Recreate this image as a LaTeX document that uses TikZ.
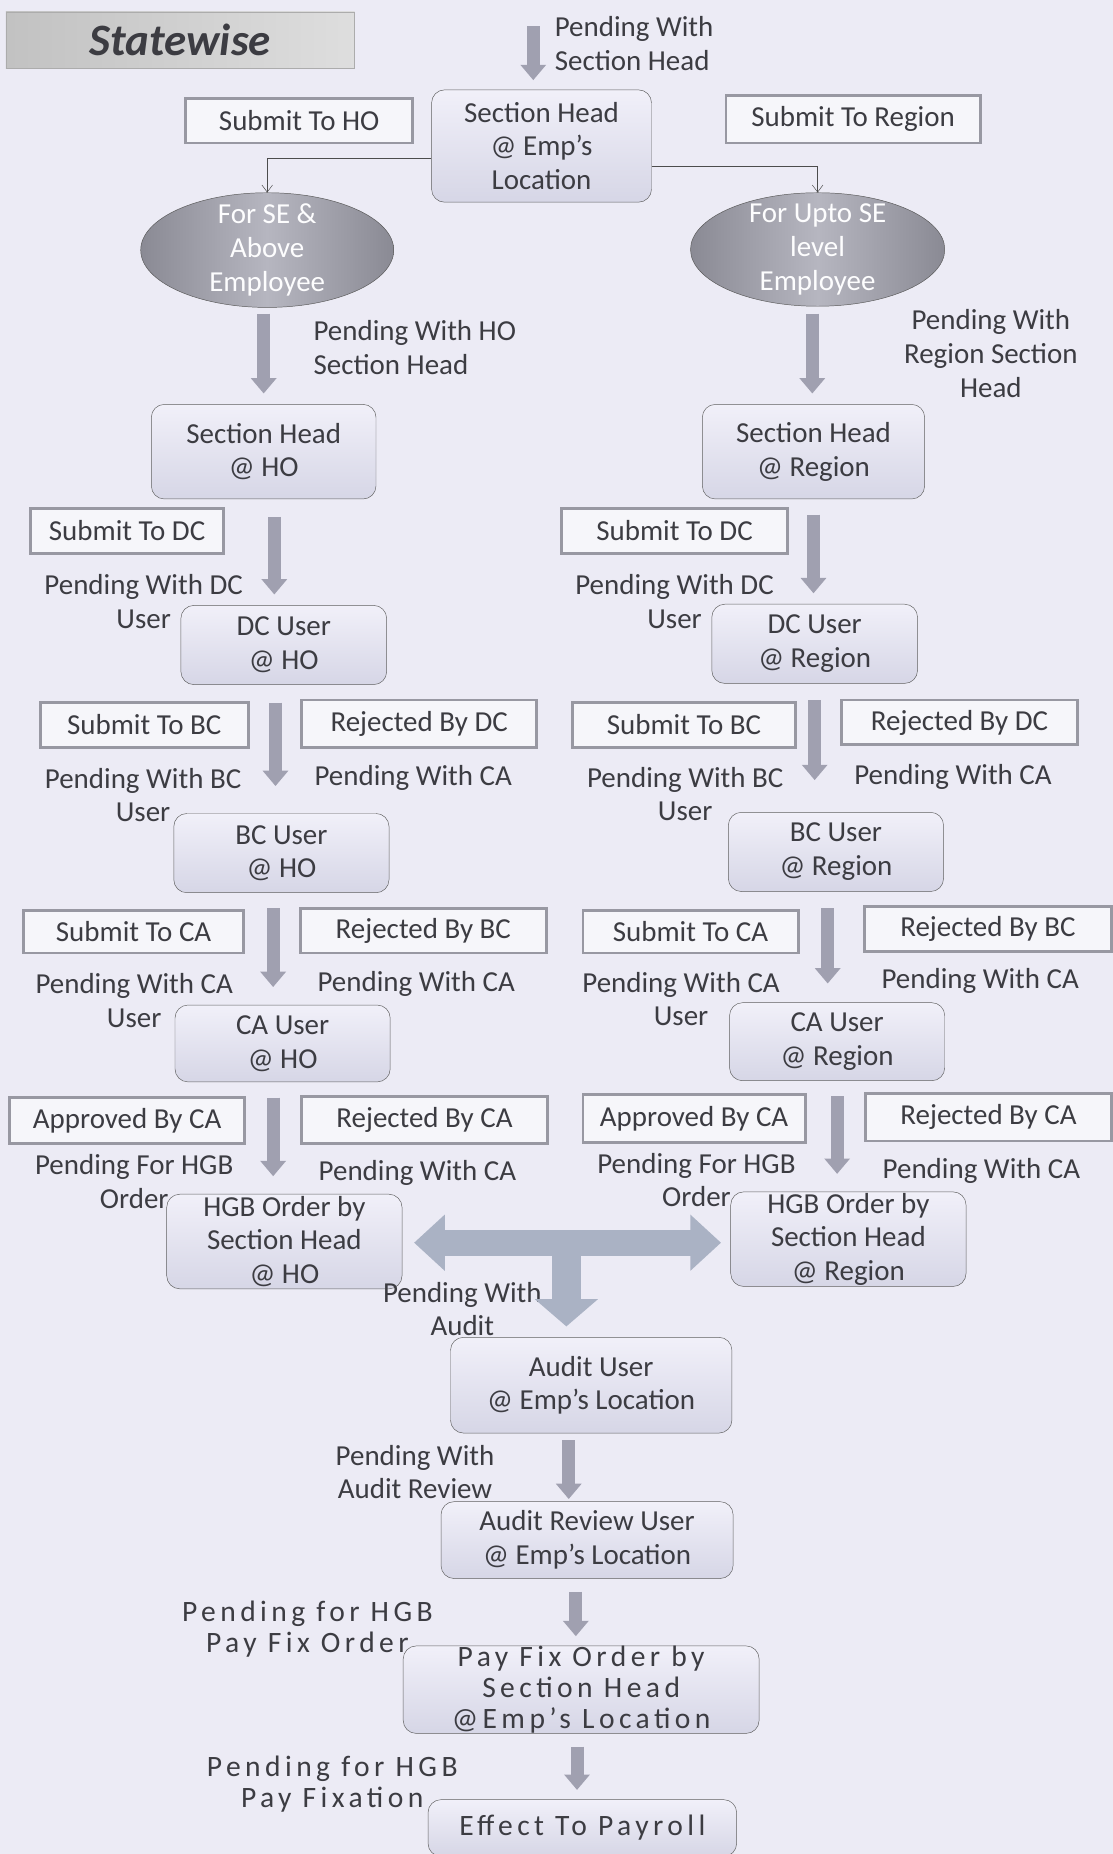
\documentclass[tikz,border=0pt]{standalone}
\usepackage{fontspec}
\setmainfont{Carlito}
\newfontfamily\widefont[LetterSpace=15]{Carlito}
\usetikzlibrary{arrows.meta,shapes.geometric}
\definecolor{paper}{RGB}{236,235,245}
\definecolor{ink}{RGB}{60,60,66}
\definecolor{boxline}{RGB}{152,152,162}
\definecolor{statetop}{RGB}{241,240,249}
\definecolor{statebot}{RGB}{214,214,230}
\definecolor{ellgray}{RGB}{138,138,148}
\definecolor{elllight}{RGB}{182,182,192}
\definecolor{arrgray}{RGB}{160,160,176}
\definecolor{teecol}{RGB}{170,178,196}

\begin{document}
\begin{tikzpicture}[x=1pt,y=-1pt,
	every node/.style={text=ink,font=\fontsize{24.5}{28.5}\selectfont,inner sep=0pt},
	action/.style={draw=boxline,line width=2.4pt,fill=white!55!paper,minimum height=38pt},
	state/.style={draw=gray!75!black,thin,rounded corners=11pt,top color=statetop,bottom color=statebot,align=center},
	level/.style={ellipse,draw=gray!70!black,thin,left color=ellgray,right color=ellgray,middle color=elllight},
	wait/.style={align=center},
	wide/.style={align=center,font=\widefont\fontsize{25}{26}\selectfont},
	blk/.style={line width=11pt,draw=arrgray,-{Triangle[width=21pt,length=13pt]}},
	fat/.style={line width=22pt,draw=teecol},
	thinarr/.style={thin,draw=gray!60!black,-{Straight Barb[length=6pt,width=9pt]}}]
	\useasboundingbox (0,0) rectangle (941,1568);
	\fill[paper] (0,0) rectangle (941,1568);% page

	\node[draw=gray!65,left color=gray!48,right color=gray!26,minimum width=295pt,minimum height=48pt,font=\fontsize{38}{42}\selectfont\bfseries\itshape] (title) at (152.5,34) {Statewise};

	% top level
	\coordinate (entry) at (451,22);
	\node[anchor=west,align=left] (waitsh) at (469,37) {Pending With\\Section Head};
	\node[action,minimum width=192pt] (toho) at (253,102) {Submit To HO};
	\node[state,minimum width=186pt,minimum height=95pt] (shemp) at (458,123.5) {Section Head\\@ Emp’s\\Location};
	\node[action,minimum width=215pt,minimum height=40pt] (toreg) at (721.5,101) {Submit To Region};
	\node[level,minimum width=214pt,minimum height=97pt,label={[text=white!92!paper,align=center]center:For SE \&\\Above\\Employee}] (elll) at (226,211.5) {};
	\node[level,minimum width=215pt,minimum height=96pt,label={[text=white!92!paper,align=center]center:For Upto SE\\level\\Employee}] (ellr) at (691.5,211) {};
	\draw[blk] (entry) -- ([xshift=-7pt,yshift=8pt]shemp.north);
	\draw[thinarr] ([yshift=-10.5pt]shemp.west) -| (elll.north);
	\draw[thinarr] ([yshift=-17.5pt]shemp.east) -| (ellr.north);

	% HO column
	\node[anchor=west,align=left] (waitho) at (265,294) {Pending With HO\\Section Head};
	\node[state,minimum width=190pt,minimum height=80pt] (shho) at (223,382) {Section Head\\@ HO};
	\node[action,minimum width=163pt] (todcl) at (107.5,449) {Submit To DC};
	\node[wait] (waitdcl) at (121.5,509) {Pending With DC\\User};
	\node[state,minimum width=174pt,minimum height=67pt] (dcho) at (240,545.5) {DC User\\@ HO};
	\node[action,minimum width=176pt] (tobcl) at (122,613) {Submit To BC};
	\node[action,minimum width=199pt,minimum height=40pt] (rejdcl) at (354.5,612) {Rejected By DC};
	\node[wait] (waitbcl) at (121,672.5) {Pending With BC\\User};
	\node (backdcl) at (349.5,658) {Pending With CA};
	\node[state,minimum width=182pt,minimum height=67pt] (bcho) at (238,721.5) {BC User\\@ HO};
	\node[action,minimum width=186pt,minimum height=36pt] (tocal) at (113,788) {Submit To CA};
	\node[action,minimum width=208pt] (rejbcl) at (358,787) {Rejected By BC};
	\node[wait] (waitcal) at (113.5,846) {Pending With CA\\User};
	\node (backbcl) at (352,832) {Pending With CA};
	\node[state,minimum width=182pt,minimum height=65pt] (caho) at (239,882.5) {CA User\\@ HO};
	\node[action,minimum width=199pt,minimum height=39pt] (appcal) at (107.5,947.5) {Approved By CA};
	\node[action,minimum width=208pt,minimum height=40pt] (rejcal) at (359,947) {Rejected By CA};
	\node[wait] (waithgbl) at (113.5,999) {Pending For HGB\\Order};
	\node (backcal) at (353,992) {Pending With CA};
	\node[state,minimum width=199pt,minimum height=80pt] (hgbho) at (240.5,1050) {HGB Order by\\Section Head\\@ HO};
	\draw[blk] ([xshift=-3pt,yshift=-5pt]elll.south) -- ([yshift=9pt]shho.north);
	\draw[blk] ([xshift=9pt,yshift=-15pt]shho.south) -- ([xshift=-8pt,yshift=9pt]dcho.north);
	\draw[blk] ([xshift=-7pt,yshift=-15pt]dcho.south) -- ([xshift=-5pt,yshift=23pt]bcho.north);
	\draw[blk] ([xshift=-7pt,yshift=-13pt]bcho.south) -- ([xshift=-8pt,yshift=15pt]caho.north);
	\draw[blk] ([xshift=-8pt,yshift=-13pt]caho.south) -- ([xshift=-9.5pt,yshift=15pt]hgbho.north);

	% Region column
	\node[wait] (waitreg) at (838,299) {Pending With\\Region Section\\Head};
	\node[state,minimum width=188pt,minimum height=80pt] (shreg) at (688,382) {Section Head\\@ Region};
	\node[action,minimum width=191pt] (todcr) at (570.5,449) {Submit To DC};
	\node[wait] (waitdcr) at (570.5,508.5) {Pending With DC\\User};
	\node[state,minimum width=174pt,minimum height=67pt] (dcreg) at (689,544.5) {DC User\\@ Region};
	\node[action,minimum width=189pt] (tobcr) at (578.5,613) {Submit To BC};
	\node[action,minimum width=199pt] (rejdcr) at (811.5,611) {Rejected By DC};
	\node[wait] (waitbcr) at (579.5,671.5) {Pending With BC\\User};
	\node (backdcr) at (806,657) {Pending With CA};
	\node[state,minimum width=182pt,minimum height=67pt] (bcreg) at (707,720.5) {BC User\\@ Region};
	\node[action,minimum width=182pt,minimum height=36pt] (tocar) at (584,788) {Submit To CA};
	\node[action,minimum width=209pt] (rejbcr) at (835.5,786) {Rejected By BC};
	\node[wait] (waitcar) at (576,845) {Pending With CA\\User};
	\node (backbcr) at (829,830) {Pending With CA};
	\node[state,minimum width=182pt,minimum height=66pt] (careg) at (708,881) {CA User\\@ Region};
	\node[action,minimum width=188pt,minimum height=40pt] (appcar) at (587,946) {Approved By CA};
	\node[action,minimum width=208pt,minimum height=40pt] (rejcar) at (836,945) {Rejected By CA};
	\node[wait] (waithgbr) at (589,998) {Pending For HGB\\Order};
	\node (backcar) at (830,990) {Pending With CA};
	\node[state,minimum width=199pt,minimum height=80pt] (hgbreg) at (717.5,1048) {HGB Order by\\Section Head\\@ Region};
	\draw[blk] ([xshift=-4.5pt,yshift=-6pt]ellr.south) -- ([xshift=-1pt,yshift=9pt]shreg.north);
	\draw[blk] ([yshift=-13pt]shreg.south) -- ([xshift=-1pt,yshift=9pt]dcreg.north);
	\draw[blk] ([yshift=-14pt]dcreg.south) -- ([xshift=-18pt,yshift=27pt]bcreg.north);
	\draw[blk] ([xshift=-7pt,yshift=-14pt]bcreg.south) -- ([xshift=-8pt,yshift=16pt]careg.north);
	\draw[blk] ([yshift=-13pt]careg.south) -- ([xshift=-9.5pt,yshift=15pt]hgbreg.north);

	% audit and pay fixation
	\node[wait] (waitaud) at (391,1107) {Pending With\\Audit};
	\node[state,minimum width=238pt,minimum height=81pt] (audit) at (500,1171.5) {Audit User\\@ Emp’s Location};
	\node[wait] (waitrev) at (351,1245) {Pending With\\Audit Review};
	\node[state,minimum width=247pt,minimum height=65pt] (review) at (496.5,1302.5) {Audit Review User\\@ Emp’s Location};
	\node[wide] (waitfix) at (260,1377.5) {Pending for HGB\\Pay Fix Order};
	\node[state,wide,minimum width=301pt,minimum height=74pt] (payfix) at (491.5,1429) {Pay Fix Order by\\Section Head\\@Emp’s Location};
	\node[wide] (waitpay) at (281,1509) {Pending for HGB\\Pay Fixation};
	\node[state,wide,minimum width=261pt,minimum height=48pt] (payroll) at (492.5,1546) {Effect To Payroll};

	\coordinate (tee) at (479,1051);
	\draw[fat,{Triangle[width=46pt,length=26pt]}-{Triangle[width=46pt,length=26pt]}] ([xshift=10pt,yshift=-1pt]hgbho.east) -- ([xshift=-8pt,yshift=-3pt]hgbreg.west);
	\draw[fat,line width=25pt,-{Triangle[width=52pt,length=23pt]}] (tee) -- ([xshift=-21pt,yshift=9pt]audit.north);
	\draw[blk] ([xshift=-19pt,yshift=-6pt]audit.south) -- ([xshift=-15.5pt,yshift=2pt]review.north);
	\draw[blk] ([xshift=-9.5pt,yshift=-11pt]review.south) -- ([xshift=-4.5pt,yshift=8pt]payfix.north);
	\draw[blk] ([xshift=-3.5pt,yshift=-11pt]payfix.south) -- ([xshift=-4.5pt,yshift=8pt]payroll.north);
\end{tikzpicture}
\end{document}
